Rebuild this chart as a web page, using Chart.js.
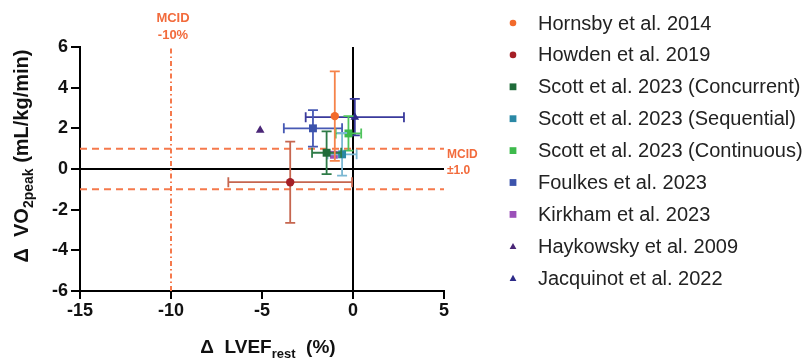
<!DOCTYPE html>
<html>
<head>
<meta charset="utf-8">
<script src="https://cdn.jsdelivr.net/npm/chart.js@4.4.0/dist/chart.umd.min.js"></script>
<style>
  html, body { margin: 0; padding: 0; background: #fff; }
  #wrap { position: relative; width: 807px; height: 362px; }
</style>
</head>
<body>
<div id="wrap"><canvas id="chart" width="807" height="362"></canvas></div>
<script>
// studies, in legend order
const studies = [
  'Hornsby et al. 2014',
  'Howden et al. 2019',
  'Scott et al. 2023 (Concurrent)',
  'Scott et al. 2023 (Sequential)',
  'Scott et al. 2023 (Continuous)',
  'Foulkes et al. 2023',
  'Kirkham et al. 2023',
  'Haykowsky et al. 2009',
  'Jacquinot et al. 2022'
];
// change in LVEF rest (%) and its error
const lvefChange = [-1.0, -3.45, -1.45, -0.6, -0.25, -2.2, -1.05, -5.1, 0.1];
const lvefError  = [0, 3.4, 0.8, 0.8, 0.7, 1.6, 0, 0, 2.7];
// change in VO2peak (mL/kg/min) and its error
const vo2Change = [2.6, -0.65, 0.8, 0.72, 1.75, 2.0, 0.7, 1.9, 2.55];
const vo2Error  = [2.2, 2.0, 1.05, 1.05, 0.85, 0.9, 0, 0, 0.9];

const xTicks = [-15, -10, -5, 0, 5];
const yTicks = [-6, -4, -2, 0, 2, 4, 6];
const mcidVo2 = 1.0;
const mcidLvef = -10;

const markerStyles = ['circle', 'circle', 'rect', 'rect', 'rect', 'rect', 'rect', 'triangle', 'triangle'];
const markerColors = ['#f26a2b', '#a51f26', '#1f6b39', '#2a88a5', '#3dba4c', '#3c53ac', '#9b50b8', '#4a2677', '#2d2b88'];
const barColors    = ['#f5834a', '#c6664f', '#2e7b47', '#7bb8d3', '#4fc35c', '#4759b4', '#9b50b8', '#4a2677', '#3a3a9c'];

const FONT = '"Liberation Sans", Arial, Helvetica, sans-serif';
const ORANGE = '#f5794c';
const LABEL_ORANGE = '#f26b3c';

const xMin = xTicks[0], xMax = xTicks[xTicks.length - 1];
const yMin = yTicks[0], yMax = yTicks[yTicks.length - 1];

function refLine(points, color, dash) {
  return {
    type: 'scatter',
    data: points,
    showLine: true,
    borderColor: color,
    borderWidth: 2,
    borderDash: dash,
    pointRadius: 0,
    clip: false,
    order: 10
  };
}

const datasets = [
  refLine([{ x: xMin, y: mcidVo2 }, { x: xMax, y: mcidVo2 }], ORANGE, [7, 5]),
  refLine([{ x: xMin, y: -mcidVo2 }, { x: xMax, y: -mcidVo2 }], ORANGE, [7, 5]),
  refLine([{ x: mcidLvef, y: yMin }, { x: mcidLvef, y: yMax }], ORANGE, [5, 3, 1.5, 3]),
  refLine([{ x: xMin, y: 0 }, { x: xMax, y: 0 }], '#000', []),
  refLine([{ x: 0, y: yMin }, { x: 0, y: yMax }], '#000', [])
];

studies.forEach((name, i) => {
  datasets.push({
    type: 'scatter',
    label: name,
    data: [{ x: lvefChange[i], y: vo2Change[i] }],
    errX: lvefError[i],
    errY: vo2Error[i],
    barColor: barColors[i],
    pointStyle: markerStyles[i],
    pointRadius: markerStyles[i] === 'rect' ? 5.6 : (markerStyles[i] === 'triangle' ? 5 : 4.2),
    backgroundColor: markerColors[i],
    borderColor: markerColors[i],
    borderWidth: 0,
    clip: false,
    order: 1
  });
});

// error bars drawn just before each study's marker
const errorBars = {
  id: 'errorBars',
  beforeDatasetDraw(chart, args) {
    const ds = chart.data.datasets[args.index];
    if (ds.errX === undefined) return;
    const xs = chart.scales.x, ys = chart.scales.y;
    const p = ds.data[0];
    const ctx = chart.ctx;
    const cx = xs.getPixelForValue(p.x), cy = ys.getPixelForValue(p.y);
    const cap = 5;
    ctx.save();
    ctx.strokeStyle = ds.barColor;
    ctx.lineWidth = 1.8;
    ctx.beginPath();
    if (ds.errX > 0) {
      const l = xs.getPixelForValue(p.x - ds.errX), r = xs.getPixelForValue(p.x + ds.errX);
      ctx.moveTo(l, cy); ctx.lineTo(r, cy);
      ctx.moveTo(l, cy - cap); ctx.lineTo(l, cy + cap);
      ctx.moveTo(r, cy - cap); ctx.lineTo(r, cy + cap);
    }
    if (ds.errY > 0) {
      const t = ys.getPixelForValue(p.y + ds.errY), b = ys.getPixelForValue(p.y - ds.errY);
      ctx.moveTo(cx, t); ctx.lineTo(cx, b);
      ctx.moveTo(cx - cap, t); ctx.lineTo(cx + cap, t);
      ctx.moveTo(cx - cap, b); ctx.lineTo(cx + cap, b);
    }
    ctx.stroke();
    ctx.restore();
  }
};

function drawRich(ctx, parts, x, y, center) {
  let total = 0;
  parts.forEach(p => { ctx.font = 'bold ' + p.size + 'px ' + FONT; p.w = ctx.measureText(p.text).width; total += p.w; });
  let cur = center ? x - total / 2 : x;
  parts.forEach(p => {
    ctx.font = 'bold ' + p.size + 'px ' + FONT;
    ctx.fillText(p.text, cur, y + (p.dy || 0));
    cur += p.w;
  });
}

function drawMarker(ctx, style, x, y, r, color) {
  ctx.fillStyle = color;
  ctx.beginPath();
  if (style === 'circle') {
    ctx.arc(x, y, r, 0, Math.PI * 2);
  } else if (style === 'rect') {
    ctx.rect(x - r, y - r, 2 * r, 2 * r);
  } else {
    ctx.moveTo(x, y - r);
    ctx.lineTo(x + r, y + r * 0.8);
    ctx.lineTo(x - r, y + r * 0.8);
    ctx.closePath();
  }
  ctx.fill();
}

const textLayer = {
  id: 'textLayer',
  afterDraw(chart) {
    const ctx = chart.ctx;
    const xs = chart.scales.x, ys = chart.scales.y;
    ctx.save();
    ctx.fillStyle = '#111';
    ctx.textBaseline = 'alphabetic';
    ctx.textAlign = 'left';

    // x axis title
    drawRich(ctx, [
      { text: 'Δ  LVEF', size: 19 },
      { text: 'rest', size: 13, dy: 5 },
      { text: '  (%)', size: 19 }
    ], 268, 353, true);

    // y axis title
    ctx.save();
    ctx.translate(28, 156);
    ctx.rotate(-Math.PI / 2);
    drawRich(ctx, [
      { text: 'Δ  VO', size: 20 },
      { text: '2peak', size: 14, dy: 5 },
      { text: ' (mL/kg/min)', size: 20 }
    ], 0, 0, true);
    ctx.restore();

    // MCID labels
    ctx.fillStyle = LABEL_ORANGE;
    ctx.font = 'bold 13px ' + FONT;
    ctx.textAlign = 'center';
    ctx.textBaseline = 'middle';
    const mx = xs.getPixelForValue(mcidLvef) + 2;
    ctx.fillText('MCID', mx, 18);
    ctx.fillText('-10%', mx, 35);
    ctx.textAlign = 'left';
    ctx.font = 'bold 12px ' + FONT;
    const y0 = ys.getPixelForValue(0);
    ctx.fillText('MCID', chart.chartArea.right + 3, y0 - 14);
    ctx.fillText('±1.0', chart.chartArea.right + 3, y0 + 2);

    // legend
    ctx.font = '20px ' + FONT;
    ctx.textBaseline = 'middle';
    studies.forEach((name, i) => {
      const ly = 23 + i * 31.9;
      drawMarker(ctx, markerStyles[i], 513, ly, markerStyles[i] === 'circle' ? 3.3 : 3.4, markerColors[i]);
      ctx.fillStyle = '#222';
      ctx.fillText(name, 538, ly + 1);
    });
    ctx.restore();
  }
};

const tickFont = { family: FONT, size: 18, weight: 'bold' };

new Chart(document.getElementById('chart').getContext('2d'), {
  type: 'scatter',
  data: { datasets: datasets },
  options: {
    responsive: false,
    animation: false,
    layout: { padding: { left: 0, top: 47, right: 807 - 444, bottom: 0 } },
    plugins: {
      legend: { display: false },
      tooltip: { enabled: false }
    },
    scales: {
      x: {
        type: 'linear',
        min: xMin,
        max: xMax,
        afterBuildTicks: s => { s.ticks = xTicks.map(v => ({ value: v })); },
        afterFit: s => { s.height = 71; },
        ticks: { color: '#111', font: tickFont, padding: 1 },
        grid: { drawOnChartArea: false, drawTicks: true, tickLength: 8, color: '#000', lineWidth: 2 },
        border: { color: '#000', width: 2 }
      },
      y: {
        type: 'linear',
        min: yMin,
        max: yMax,
        afterBuildTicks: s => { s.ticks = yTicks.map(v => ({ value: v })); },
        afterFit: s => { s.width = 80; },
        ticks: { color: '#111', font: tickFont, padding: 3 },
        grid: { drawOnChartArea: false, drawTicks: true, tickLength: 9, color: '#000', lineWidth: 2 },
        border: { color: '#000', width: 2 }
      }
    }
  },
  plugins: [errorBars, textLayer]
});
</script>
</body>
</html>
